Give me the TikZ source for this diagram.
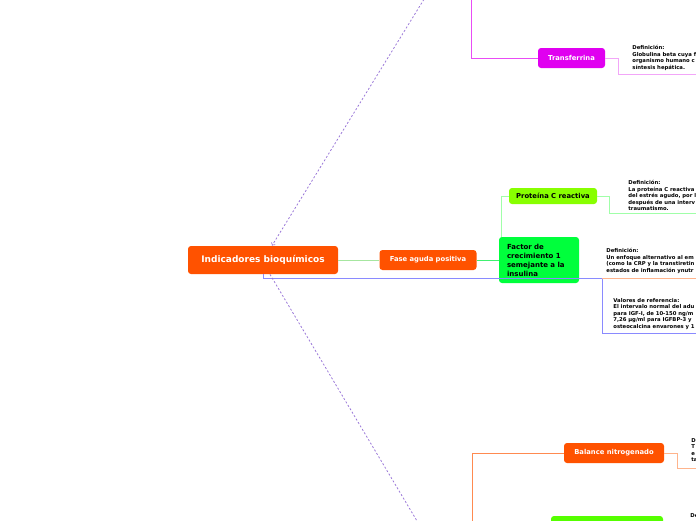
\documentclass[tikz,border=0pt]{standalone}
\usepackage{fontspec}
\setmainfont{DejaVu Sans}
\usetikzlibrary{positioning}
\definecolor{topic-orange}{HTML}{FF5200}
\definecolor{topic-green}{HTML}{00FF3C}
\definecolor{topic-lime}{HTML}{88FF00}
\definecolor{topic-magenta}{HTML}{E000F0}
\definecolor{topic-leaf}{HTML}{55FF00}
\definecolor{line-green}{HTML}{A6E6A0}
\definecolor{line-bright}{HTML}{40F070}
\definecolor{line-mint}{HTML}{A0FFA8}
\definecolor{line-blue}{HTML}{8A8AFF}
\definecolor{line-salmon}{HTML}{FFB48C}
\definecolor{line-orange}{HTML}{FF8A50}
\definecolor{line-pink}{HTML}{F2A6F8}
\definecolor{line-violet}{HTML}{9A78D8}

\begin{document}
\begin{tikzpicture}[x=1pt, y=-1pt, line width=0.8pt,
    topic/.style={rounded corners=3pt, inner sep=0pt, font=\bfseries\fontsize{6.8}{8}\selectfont},
    note/.style={anchor=north west, inner sep=0pt, align=left, font=\bfseries\fontsize{5.3}{6.5}\selectfont}]
    \useasboundingbox (0,0) rectangle (696,520);
    \clip (0,0) rectangle (696,520);
    % topics
    \node[topic, fill=topic-orange, text=white, minimum width=150, minimum height=28,
      font=\bfseries\fontsize{9}{11}\selectfont] (indic) at (263,260) {Indicadores bioquímicos};
    \node[topic, fill=topic-orange, text=white, minimum width=97, minimum height=20] (fase) at (428,260) {Fase aguda positiva};
    \node[topic, fill=topic-green, minimum width=80, minimum height=46, text width=64, align=left,
      font=\bfseries\fontsize{7}{9}\selectfont] (igf) at (539,260) {Factor de\\crecimiento 1\\semejante a la\\insulina};
    \node[topic, fill=topic-lime, minimum width=88, minimum height=16] (pcr) at (553,196) {Proteína C reactiva};
    \node[topic, fill=topic-magenta, text=white, minimum width=67, minimum height=20] (transf) at (571.5,58) {Transferrina};
    \node[topic, fill=topic-orange, text=white, minimum width=100, minimum height=20] (balance) at (614,453) {Balance nitrogenado};
    \node[topic, fill=topic-leaf, minimum width=112, minimum height=28] (leaf) at (607,530) {};
    % notes
    \node[note] (transf-def) at (632,45) {Definición:\\Globulina beta cuya f\\organismo humano c\\síntesis hepática.};
    \node[note] (pcr-def) at (628,180) {Definición:\\La proteína C reactiva\\del estrés agudo, por l\\después de una interv\\traumatismo.};
    \node[note] (igf-def) at (606,248) {Definición:\\Un enfoque alternativo al em\\(como la CRP y la transtiretin\\estados de inflamación ynutr};
    \node[note] (igf-val) at (613,298) {Valores de referencia:\\El intervalo normal del adu\\para IGF-I, de 10-150 ng/m\\7,26 µg/ml para IGFBP-3 y\\osteocalcina envarones y 1};
    \node[note] (balance-def) at (691,438) {D\\T\\e\\ta};
    \node[note] (leaf-def) at (690,513) {De};
    % loose ends
    \coordinate (val-fork) at (602,278);
    \coordinate (val-end) at (700,333);
    \coordinate (igf-end) at (700,278);
    \coordinate (pcr-end) at (700,213);
    \coordinate (transf-top) at (471,-5);
    \coordinate (transf-end) at (700,74);
    \coordinate (balance-bot) at (472,525);
    \coordinate (balance-end) at (700,468);
    \coordinate (dash-top) at (426,-4);
    \coordinate (dash-bot) at (420,526);
    % branches
    \draw[line-green] (indic.east) -- (fase.west);
    \draw[line-bright] (fase.east) -- (igf.west);
    \draw[line-mint] (pcr.west) -| ([xshift=3pt]igf.north west);
    \draw[line-mint] (pcr.east) -- ++(12,0) |- (pcr-end);
    \draw[line-blue] (indic.south) |- (val-fork) |- (val-end);
    \draw[line-salmon] (val-fork) -- (igf-end);
    \draw[topic-magenta!70] (transf-top) |- (transf.west);
    \draw[line-pink] (transf.east) -- ++(13,0) |- (transf-end);
    \draw[line-orange] (balance-bot) |- (balance.west);
    \draw[line-salmon] (balance.east) -- ++(13,0) |- (balance-end);
    % relations
    \draw[line-violet, ->, dash pattern=on 2pt off 2pt] (dash-top) -- ([xshift=9pt]indic.north);
    \draw[line-violet, ->, dash pattern=on 2pt off 2pt] ([xshift=7pt]indic.south) -- (dash-bot);
  \end{tikzpicture}
\end{document}
